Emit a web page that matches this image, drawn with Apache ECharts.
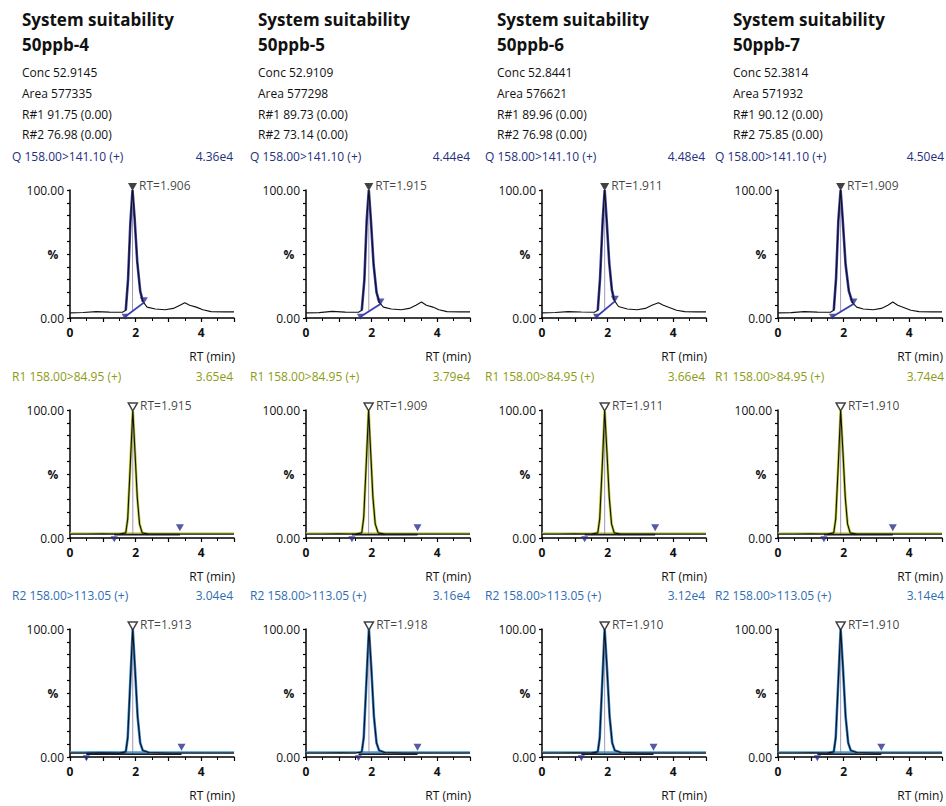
<!DOCTYPE html>
<html>
<head>
<meta charset="utf-8">
<title>System suitability 50ppb</title>
<script src="https://cdn.jsdelivr.net/npm/echarts@6/dist/echarts.min.js"></script>
<style>
  html, body { margin: 0; padding: 0; background: #fff; }
  #main { width: 946px; height: 806px; }
</style>
</head>
<body>
<div id="main"></div>
<script>
// sample headers
var samples = ['50ppb-4', '50ppb-5', '50ppb-6', '50ppb-7'];
var concVals = ['52.9145', '52.9109', '52.8441', '52.3814'];
var areaVals = ['577335', '577298', '576621', '571932'];
var ratio1 = ['91.75', '89.73', '89.96', '90.12'];
var ratio2 = ['76.98', '73.14', '76.98', '75.85'];

// transitions
var qIntensity = ['4.36e4', '4.44e4', '4.48e4', '4.50e4'];
var r1Intensity = ['3.65e4', '3.79e4', '3.66e4', '3.74e4'];
var r2Intensity = ['3.04e4', '3.16e4', '3.12e4', '3.14e4'];
var qRT = [1.906, 1.915, 1.911, 1.909];
var r1RT = [1.915, 1.909, 1.911, 1.910];
var r2RT = [1.913, 1.918, 1.910, 1.910];

// integration start / end markers [time, %]
var qStart = [[1.68, 1], [1.66, 1], [1.66, 1], [1.66, 1]];
var qEnd = [[2.25, 12], [2.27, 11], [2.22, 13], [2.3, 11]];
var r1Start = [[1.35, -1], [1.4, -1], [1.3, -1], [1.4, -1]];
var r1End = [[3.35, 6.5], [3.4, 6.5], [3.45, 6.5], [3.5, 6.5]];
var r2Start = [[0.5, -1], [1.6, -1], [1.2, -1], [1.2, -1]];
var r2End = [[3.4, 6], [3.4, 6], [3.4, 6], [3.15, 6]];
// integration baseline level of the R traces (%)
var r1Floor = [2.6, 2.6, 2.6, 2.6];
var r2Floor = [2.2, 2.2, 2.2, 2.2];

// chromatogram traces [time, %]
var qTrace4 = [[0, 4], [0.4, 4.3], [0.8, 5], [1.2, 4.6], [1.6, 4.5], [1.7, 6], [1.77, 30], [1.84, 74], [1.906, 100], [1.97, 78], [2.05, 44], [2.14, 21], [2.22, 13], [2.35, 8.5], [2.6, 7], [2.9, 6.5], [3.15, 7.5], [3.35, 10], [3.5, 12], [3.65, 10], [3.85, 8.5], [4.05, 6.5], [4.3, 5], [4.7, 4.8], [5, 4.8]];
var qTrace5 = [[0, 4], [0.4, 4.2], [0.8, 5.2], [1.2, 4.6], [1.6, 4.5], [1.7, 6], [1.78, 30], [1.85, 76], [1.915, 100], [1.98, 76], [2.06, 42], [2.15, 20], [2.24, 12], [2.36, 8.5], [2.6, 7], [2.9, 6.5], [3.15, 7.5], [3.35, 10], [3.52, 12.5], [3.67, 10], [3.87, 8.5], [4.05, 6.5], [4.3, 5], [4.7, 4.8], [5, 4.8]];
var qTrace6 = [[0, 4], [0.4, 4.3], [0.8, 5], [1.2, 4.7], [1.6, 4.5], [1.7, 6], [1.77, 31], [1.85, 76], [1.911, 100], [1.97, 77], [2.05, 43], [2.13, 22], [2.2, 14], [2.33, 9], [2.6, 7], [2.9, 6.5], [3.15, 7.5], [3.35, 10], [3.55, 12], [3.7, 10], [3.9, 8], [4.1, 6], [4.35, 5], [4.7, 4.8], [5, 4.8]];
var qTrace7 = [[0, 4], [0.4, 4.2], [0.8, 5], [1.2, 4.6], [1.6, 4.5], [1.7, 6], [1.77, 31], [1.84, 76], [1.909, 100], [1.97, 78], [2.06, 42], [2.16, 21], [2.27, 12], [2.4, 8.5], [2.6, 7], [2.9, 6.5], [3.15, 7.5], [3.35, 10], [3.5, 12.5], [3.65, 10], [3.85, 8], [4.05, 6], [4.3, 5], [4.7, 4.8], [5, 4.8]];

var r1Trace4 = [[0, 3], [0.5, 3], [1, 3.2], [1.5, 3], [1.7, 4], [1.76, 15], [1.84, 58], [1.915, 100], [1.98, 68], [2.05, 32], [2.12, 11], [2.2, 4], [2.4, 3], [3, 3], [4, 3], [5, 3]];
var r1Trace5 = [[0, 3], [0.5, 3], [1, 3.2], [1.5, 3], [1.7, 4], [1.76, 16], [1.84, 60], [1.909, 100], [1.97, 68], [2.04, 32], [2.11, 11], [2.2, 4], [2.4, 3], [3, 3], [4, 3], [5, 3]];
var r1Trace6 = [[0, 3], [0.5, 3], [1, 3.2], [1.5, 3], [1.7, 4], [1.76, 15], [1.84, 58], [1.911, 100], [1.98, 67], [2.05, 32], [2.12, 11], [2.2, 4], [2.4, 3], [3, 3], [4, 3], [5, 3]];
var r1Trace7 = [[0, 3], [0.5, 3], [1, 3.2], [1.5, 3], [1.7, 4], [1.76, 15], [1.84, 58], [1.910, 100], [1.98, 67], [2.05, 32], [2.12, 11], [2.2, 4], [2.4, 3], [3, 3], [4, 3], [5, 3]];

var r2Trace4 = [[0, 3], [0.5, 3], [1, 3.2], [1.5, 3], [1.7, 4], [1.76, 15], [1.84, 60], [1.913, 100], [1.98, 70], [2.06, 32], [2.14, 11], [2.22, 5], [2.4, 3.5], [3, 3], [4, 3], [5, 3]];
var r2Trace5 = [[0, 3], [0.5, 3], [1, 3.2], [1.5, 3], [1.7, 4], [1.76, 15], [1.84, 58], [1.918, 100], [1.99, 70], [2.07, 32], [2.15, 11], [2.23, 5], [2.4, 3.5], [3, 3], [4, 3], [5, 3]];
var r2Trace6 = [[0, 3], [0.5, 3], [1, 3.2], [1.5, 3], [1.7, 4], [1.76, 15], [1.84, 60], [1.910, 100], [1.98, 70], [2.06, 32], [2.14, 11], [2.22, 5], [2.4, 3.5], [3, 3], [4, 3], [5, 3]];
var r2Trace7 = [[0, 3], [0.5, 3], [1, 3.2], [1.5, 3], [1.7, 4], [1.76, 15], [1.84, 60], [1.910, 100], [1.98, 70], [2.06, 32], [2.14, 11], [2.22, 5], [2.4, 3.5], [3, 3], [4, 3], [5, 3]];

var xTicks = [0, 2, 4];

var colX = [70, 306, 542, 778];
var headX = [22, 258, 497, 733];
var labelX = [12, 250, 485, 715];
var rightX = [233, 470, 705, 944];
var rowTop = [190, 410, 629];
var plotW = 164, plotH = 128;
var FONT = '"Open Sans", "Noto Sans", sans-serif';

var rows = [
	{ name: 'Q 158.00>141.10 (+)', color: '#24307e', peak: '#3a3fb0', base: null, traces: [qTrace4, qTrace5, qTrace6, qTrace7],
	  rt: qRT, intensity: qIntensity, start: qStart, end: qEnd, floor: null, hollow: false, integ: '#3a3fb0' },
	{ name: 'R1 158.00>84.95 (+)', color: '#8d9b14', peak: '#b9c626', base: '#c9d25a', traces: [r1Trace4, r1Trace5, r1Trace6, r1Trace7],
	  rt: r1RT, intensity: r1Intensity, start: r1Start, end: r1End, floor: r1Floor, hollow: true, integ: '#1a1a2a' },
	{ name: 'R2 158.00>113.05 (+)', color: '#2f6db3', peak: '#2d7fd0', base: '#3d9dd6', traces: [r2Trace4, r2Trace5, r2Trace6, r2Trace7],
	  rt: r2RT, intensity: r2Intensity, start: r2Start, end: r2End, floor: r2Floor, hollow: true, integ: '#1a1a2a' }
];

var grids = [], xAxes = [], yAxes = [], series = [], graphics = [];

function txt(x, y, s, size, color, weight, align) {
	graphics.push({
		type: 'text', x: x, y: y, silent: true,
		style: { text: s, x: 0, y: 0, fill: color || '#000', font: (weight || 'normal') + ' ' + size + 'px ' + FONT,
			textAlign: align || 'left', textVerticalAlign: 'middle' }
	});
}

for (var c = 0; c < 4; c++) {
	txt(headX[c], 19, 'System suitability', 17, '#111', 'bold');
	txt(headX[c], 44, samples[c], 17, '#111', 'bold');
	txt(headX[c], 72, 'Conc ' + concVals[c], 12, '#111');
	txt(headX[c], 93, 'Area ' + areaVals[c], 12, '#111');
	txt(headX[c], 114, 'R#1 ' + ratio1[c] + ' (0.00)', 12, '#111');
	txt(headX[c], 134, 'R#2 ' + ratio2[c] + ' (0.00)', 12, '#111');
}

rows.forEach(function (row, r) {
	for (var c = 0; c < 4; c++) {
		var g = grids.length;
		var top = rowTop[r];
		grids.push({ left: colX[c], top: top, width: plotW, height: plotH });
		txt(labelX[c], top - 34, row.name, 12, row.color);
		txt(rightX[c], top - 34, row.intensity[c], 12, row.color, 'normal', 'right');
		txt(colX[c] - 17, top + 64, '%', 12, '#111', 'bold', 'center');
		txt(colX[c] + plotW + 1, top + 166, 'RT (min)', 12, '#111', 'normal', 'right');

		xAxes.push({
			gridIndex: g, type: 'value', min: 0, max: 5, interval: 1,
			axisLine: { lineStyle: { color: '#000', width: 1.5 } },
			axisTick: { length: 4, lineStyle: { color: '#000', width: 1.2 } },
			minorTick: { show: true, splitNumber: 2, length: 3, lineStyle: { color: '#000' } },
			splitLine: { show: false },
			axisLabel: { margin: 8, color: '#111', fontFamily: FONT, fontSize: 12, fontWeight: 'bold',
				formatter: function (v) { return xTicks.indexOf(v) >= 0 ? String(v) : ''; } }
		});
		yAxes.push({
			gridIndex: g, type: 'value', min: 0, max: 100, interval: 10,
			axisLine: { show: true, lineStyle: { color: '#000', width: 1.5 } },
			axisTick: { show: true, length: 3, lineStyle: { color: '#000', width: 1.2 } },
			splitLine: { show: false },
			axisLabel: { margin: 6, color: '#111', fontFamily: FONT, fontSize: 12,
				formatter: function (v) { return v === 0 ? '0.00' : (v === 100 ? '100.00' : ''); } }
		});

		var trace = row.traces[c];
		var rt = row.rt[c];
		var st = row.start[c], en = row.end[c];
		var peak = trace.filter(function (p) { return p[0] >= st[0] - 0.05 && p[0] <= Math.min(en[0], 2.4); });
		var integ, baseAtRt;
		if (row.floor) {
			integ = [[st[0], row.floor[c]], [en[0], row.floor[c]]];
			baseAtRt = row.floor[c];
		} else {
			integ = [st, en];
			baseAtRt = st[1] + (en[1] - st[1]) * (rt - st[0]) / (en[0] - st[0]);
		}
		var common = { xAxisIndex: g, yAxisIndex: g, animation: false, silent: true };

		if (row.base) {
			series.push(Object.assign({ type: 'line', data: [[0, 3.8], [5, 3.8]], symbol: 'none',
				lineStyle: { color: row.base, width: 1.6 } }, common));
		}
		series.push(Object.assign({ type: 'line', data: peak, symbol: 'none',
			lineStyle: { color: row.peak, width: 2.6 } }, common));
		series.push(Object.assign({ type: 'line', data: [[rt, 100], [rt, baseAtRt]], symbol: 'none',
			lineStyle: { color: '#8a7fa0', width: 0.8 } }, common));
		series.push(Object.assign({ type: 'line', data: trace, symbol: 'none', clip: false,
			lineStyle: { color: '#111', width: 1.1 } }, common));
		series.push(Object.assign({ type: 'line', data: integ, symbol: 'none',
			lineStyle: { color: row.integ, width: 1.8 } }, common));
		series.push(Object.assign({ type: 'scatter', data: [st], symbol: 'triangle', symbolRotate: 180,
			symbolSize: [7, 6], clip: false, itemStyle: { color: '#2c2f8e' } }, common));
		series.push(Object.assign({ type: 'scatter', data: [en], symbol: 'triangle', symbolRotate: 180,
			symbolSize: [8, 7], symbolOffset: [0, -2], clip: false, itemStyle: { color: '#2c2f8e' } }, common));
		series.push(Object.assign({ type: 'scatter', data: [[rt, 100]], symbol: 'triangle', symbolRotate: 180,
			symbolSize: [9, 8], symbolOffset: [0, -3], clip: false,
			itemStyle: row.hollow ? { color: '#fff', borderColor: '#111', borderWidth: 1.5 } : { color: '#111' },
			label: { show: true, position: 'right', distance: 2, offset: [0, -2], color: '#111', fontFamily: FONT, fontSize: 12,
				formatter: 'RT=' + rt.toFixed(3) } }, common));
	}
});

var chart = echarts.init(document.getElementById('main'), null, { renderer: 'svg' });
chart.setOption({
	backgroundColor: '#fff',
	animation: false,
	grid: grids,
	xAxis: xAxes,
	yAxis: yAxes,
	series: series,
	graphic: graphics
});
</script>
</body>
</html>
